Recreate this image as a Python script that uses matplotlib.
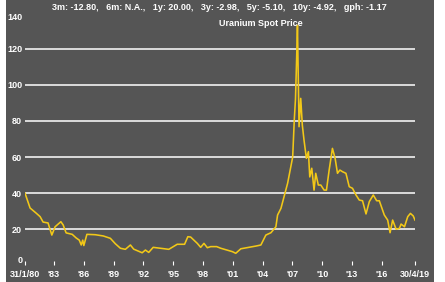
import matplotlib
matplotlib.use("Agg")
import matplotlib.pyplot as plt
from matplotlib.patches import Rectangle

# decimal year, price (USD/lb)
years = [1980.08, 1980.59, 1981.19, 1981.6, 1981.9, 1982.4, 1982.78, 1983.11, 1983.69, 1983.92,
         1984.22, 1984.83, 1985.23, 1985.54, 1985.74, 1985.89, 1986.0, 1986.31, 1987.15, 1987.96,
         1988.67, 1989.17, 1989.68, 1990.18, 1990.69, 1991.02, 1991.87, 1992.2, 1992.53, 1992.98,
         1994.55, 1995.4, 1996.14, 1996.47, 1996.75, 1997.42, 1997.76, 1998.09, 1998.43, 1998.77,
         1999.37, 1999.78, 2000.96, 2001.29, 2001.8, 2003.31, 2003.82, 2004.32, 2004.83, 2005.33,
         2005.5, 2005.84, 2006.51, 2007.02, 2007.18, 2007.3, 2007.42, 2007.5, 2007.66, 2007.83,
         2007.99, 2008.16, 2008.4, 2008.6, 2008.74, 2008.94, 2009.17, 2009.34, 2009.6, 2009.85,
         2010.18, 2010.42, 2010.69, 2011.02, 2011.29, 2011.53, 2011.77, 2012.03, 2012.38, 2012.71,
         2013.04, 2013.39, 2013.72, 2014.05, 2014.4, 2014.73, 2015.13, 2015.47, 2015.74, 2016.24,
         2016.58, 2016.82, 2017.08, 2017.43, 2017.76, 2017.93, 2018.27, 2018.6, 2018.87, 2019.15,
         2019.33]
prices = [40, 31.8, 29, 27, 24, 23.5, 16.8, 21.4, 24.2, 22.4,
          18, 17.2, 15.2, 14, 11.3, 14, 11, 17.2, 17, 16.3,
          15, 12, 9.5, 8.9, 11.3, 9, 7.0, 8.5, 7.2, 10,
          8.9, 11.7, 11.7, 15.9, 15.7, 12.2, 10, 12.2, 9.8, 10.4,
          10.4, 9.5, 7.6, 6.7, 9.2, 10.7, 11.3, 16.8, 18.1, 21.4,
          27.9, 31.6, 45.5, 60, 80.5, 92, 115, 133, 76.8, 92.5,
          77.7, 69.4, 59.3, 63, 49, 53.8, 41.7, 51, 44.5, 44.5,
          41.7, 41.7, 52.8, 64.8, 59.3, 51, 52.8, 51.9, 51, 43.6,
          42.7, 39, 36.2, 35.8, 28.5, 35.3, 39, 35.8, 35.8, 27.9,
          25.1, 18.1, 25.1, 20, 20.5, 22.9, 21.4, 27, 28.8, 27.4,
          25.1]

yticks = [0, 20, 40, 60, 80, 100, 120, 140]
xtick_pos = [1980.08, 1983, 1986, 1989, 1992, 1995, 1998, 2001, 2004, 2007, 2010, 2013, 2016, 2019.33]
xtick_lab = ["31/1/80", "'83", "'86", "'89", "'92", "'95", "'98", "'01", "'04", "'07", "'10",
             "'13", "'16", "30/4/19"]
stats = "3m: -12.80,   6m: N.A.,   1y: 20.00,   3y: -2.98,   5y: -5.10,   10y: -4.92,   gph: -1.17"

bg = "#555555"
plt.rcParams['font.family'] = ['Liberation Sans', 'DejaVu Sans']

fig = plt.figure(figsize=(4.45, 2.82), dpi=100, facecolor="white")
fig.patches.append(Rectangle((6 / 445, 0), 428 / 445, 1, transform=fig.transFigure,
                             facecolor=bg, edgecolor="none", zorder=-5))
ax = fig.add_axes([25 / 445, (282 - 265.4) / 282, 390 / 445, (265.4 - 12.6) / 282])
ax.set_facecolor(bg)

ax.plot(years, prices, color="#F2C818", lw=1.15, zorder=3)

ax.set_xlim(1980.08, 2019.33)
ax.set_ylim(0, 140)
ax.set_yticks(yticks)
ax.set_xticks(xtick_pos)
ax.set_xticklabels(xtick_lab)
for s in ax.spines.values():
    s.set_visible(False)

ax.grid(axis="y", color="white", lw=1.1)
gl = ax.get_ygridlines()
gl[0].set_visible(False)
gl[-1].set_visible(False)
ax.set_axisbelow(True)

ax.tick_params(axis="y", length=0, pad=2, labelcolor="white", labelsize=6.5)
ax.tick_params(axis="x", direction="in", length=3, color="white", width=0.8, pad=3,
               labelcolor="white", labelsize=6.5)
for lab in ax.get_yticklabels() + ax.get_xticklabels():
    lab.set_fontweight("bold")
ylabs = ax.get_yticklabels()
ylabs[0].set_verticalalignment("bottom")
ylabs[-1].set_verticalalignment("top")

fig.text(219 / 445, 1 - 7.5 / 282, stats, color="white", fontsize=6.5, fontweight="bold",
         ha="center", va="center")
fig.text(261 / 445, 1 - 23 / 282, "Uranium Spot Price", color="white", fontsize=6.5,
         fontweight="bold", ha="center", va="center")

fig.savefig("out.png", dpi=100, facecolor=fig.get_facecolor())
